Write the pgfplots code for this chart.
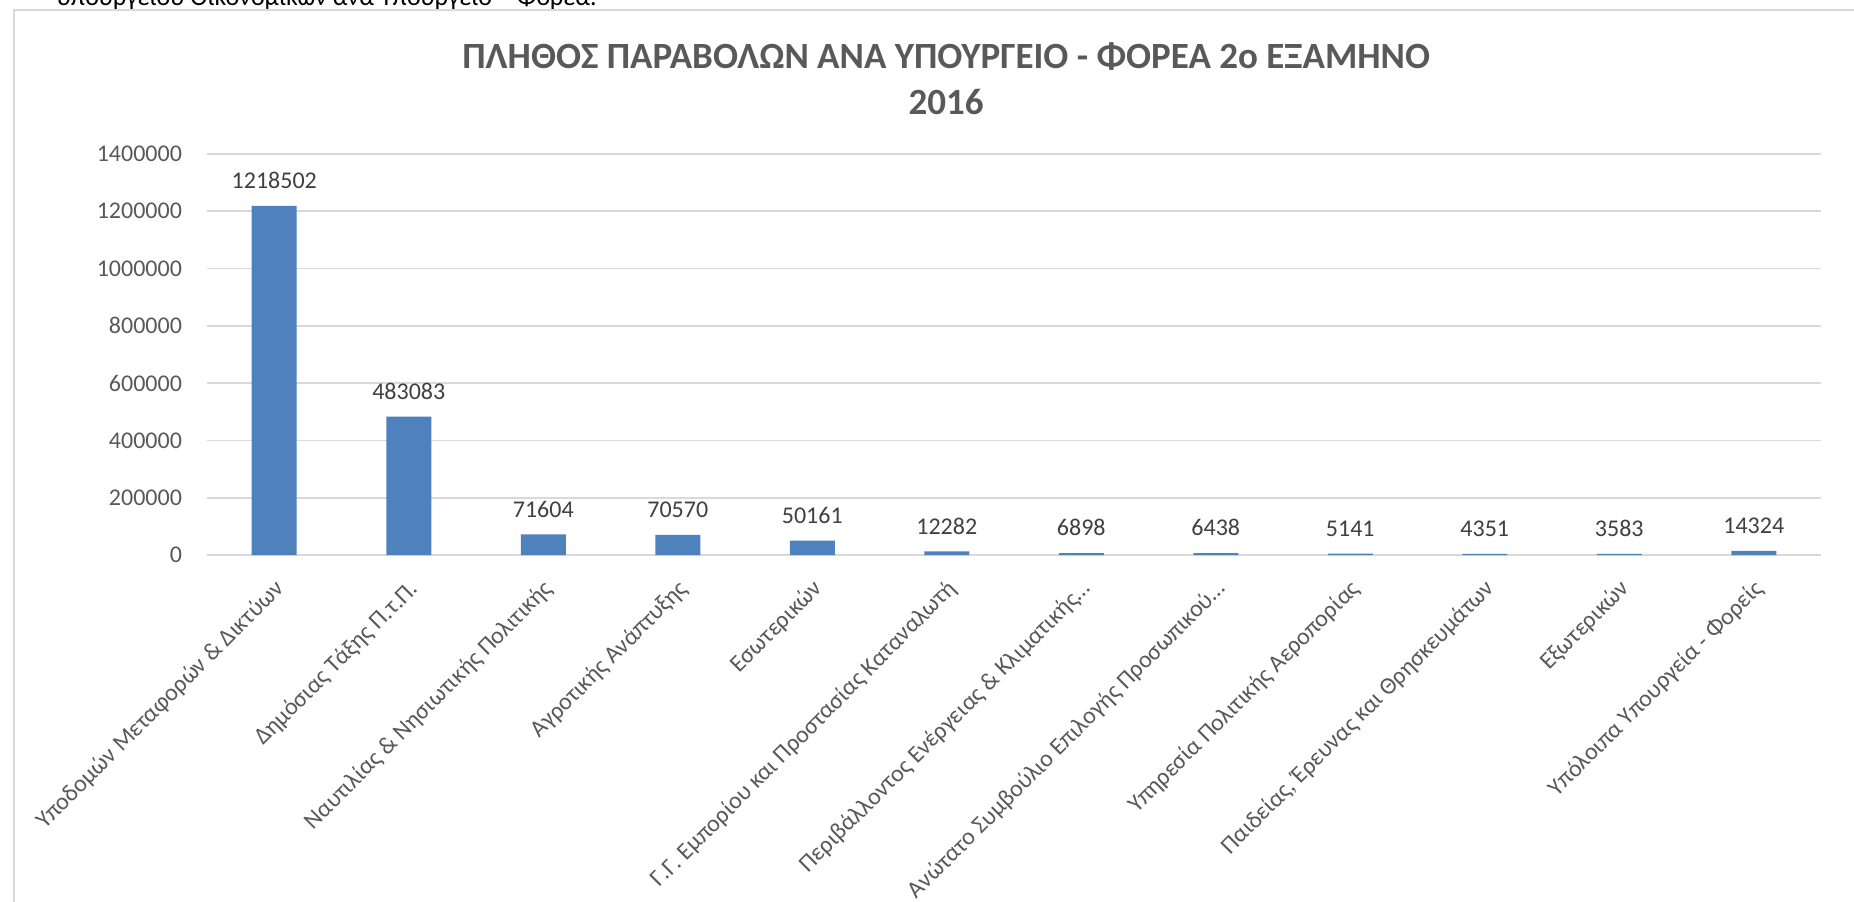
\documentclass[border=0pt]{standalone}
\usepackage{pgfplots}
\pgfplotsset{compat=1.18}
\usepackage{fontspec}
\setmainfont{Carlito}
\definecolor{barblue}{HTML}{4F81BD}
\definecolor{gridgray}{HTML}{D9D9D9}
\definecolor{ticktext}{HTML}{595959}
\definecolor{labeltext}{HTML}{404040}
\begin{document}
\begin{tikzpicture}
\path[use as bounding box, clip] (0,0) rectangle (927pt,450.5pt);
\fill[white] (0,0) rectangle (927pt,450.5pt);
\node[anchor=base east, font=\fontsize{13}{15}\selectfont, inner sep=0pt] at (298.5pt,447.5pt) {υπουργείου Οικονομικών ανά Υπουργείο – Φορέα.};
\draw[gridgray, line width=0.8pt] (7pt,-5pt) -- (7pt,445.5pt) -- (940pt,445.5pt);
\begin{axis}[
  at={(103.5pt,173pt)}, anchor=south west,
  scale only axis, width=807pt, height=200.5pt,
  xmin=-0.5, xmax=11.5, ymin=0, ymax=1400000,
  ytick={0,200000,400000,600000,800000,1000000,1200000,1400000},
  scaled y ticks=false,
  /pgf/number format/.cd, fixed, precision=0, 1000 sep={}, assume math mode=true,
  /pgfplots/.cd,
  xtick={0,...,11},
  xticklabels={Υποδομών Μεταφορών \& Δικτύων, Δημόσιας Τάξης Π.τ.Π., Ναυτιλίας \& Νησιωτικής Πολιτικής, Αγροτικής Ανάπτυξης, Εσωτερικών, Γ.Γ. Εμπορίου και Προστασίας Καταναλωτή, Περιβάλλοντος Ενέργειας \& Κλιματικής…, Ανώτατο Συμβούλιο Επιλογής Προσωπικού…, Υπηρεσία Πολιτικής Αεροπορίας, {Παιδείας, Έρευνας και Θρησκευμάτων}, Εξωτερικών, Υπόλοιπα Υπουργεία - Φορείς},
  major tick length=0pt,
  axis line style={draw=none},
  ymajorgrids, grid style={gridgray, line width=0.8pt},
  yticklabel style={font=\fontsize{12}{14}\selectfont, text=ticktext, anchor=east, xshift=-9pt},
  xticklabel style={font=\fontsize{12}{14}\selectfont, text=ticktext, inner sep=0pt, rotate=45, anchor=east, xshift=-8.5pt, yshift=-12.9pt},
  ybar, bar width=22.5pt,
  point meta=explicit symbolic,
  nodes near coords,
  nodes near coords style={font=\fontsize{12}{14}\selectfont, text=labeltext, yshift=5pt},
  clip=false,
]
\addplot[fill=barblue, draw=none] coordinates {
 (0,1218502) [1218502]
 (1,483083) [483083]
 (2,71604) [71604]
 (3,70570) [70570]
 (4,50161) [50161]
 (5,12282) [12282]
 (6,6898) [6898]
 (7,6438) [6438]
 (8,5141) [5141]
 (9,4351) [4351]
 (10,3583) [3583]
 (11,14324) [14324]
};
\node[font=\fontsize{18.5}{22}\selectfont\bfseries, text=ticktext, align=center] at (rel axis cs:0.458,1) [yshift=37.5pt] {ΠΛΗΘΟΣ ΠΑΡΑΒΟΛΩΝ ΑΝΑ ΥΠΟΥΡΓΕΙΟ - ΦΟΡΕΑ 2o ΕΞΑΜΗΝΟ\\[1pt] 2016};
\end{axis}
\end{tikzpicture}
\end{document}
